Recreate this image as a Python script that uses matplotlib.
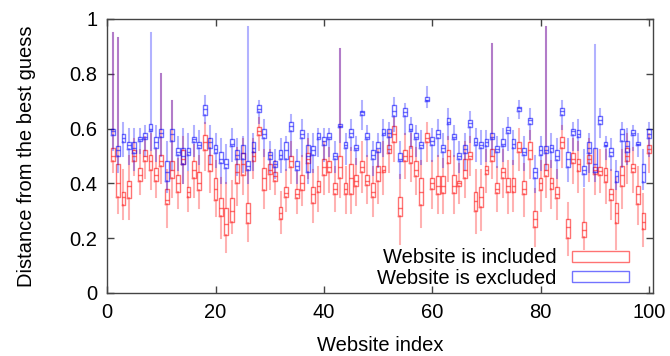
import matplotlib
matplotlib.use("Agg")
import matplotlib.pyplot as plt
from matplotlib.patches import Rectangle

plt.rcParams['font.family'] = ['Liberation Sans', 'DejaVu Sans']
plt.rcParams['font.size'] = 14.5

# website index 1..100
websites = list(range(1, 101))

# "Website is excluded" (blue): q1, median, q3, whisker low, whisker high
exc_q1 = [0.575, 0.50, 0.55, 0.525, 0.51, 0.555, 0.56, 0.59, 0.53, 0.57,
          0.41, 0.555, 0.505, 0.47, 0.505, 0.55, 0.53, 0.65, 0.53, 0.51,
          0.475, 0.455, 0.535, 0.49, 0.49, 0.45, 0.515, 0.66, 0.565, 0.49,
          0.46, 0.49, 0.49, 0.59, 0.45, 0.565, 0.44, 0.505, 0.56, 0.54,
          0.56, 0.49, 0.605, 0.53, 0.57, 0.52, 0.65, 0.56, 0.49, 0.515,
          0.575, 0.57, 0.645, 0.48, 0.645, 0.59, 0.56, 0.53, 0.70, 0.54,
          0.565, 0.515, 0.615, 0.56, 0.49, 0.51, 0.605, 0.54, 0.53, 0.535,
          0.56, 0.515, 0.535, 0.585, 0.53, 0.665, 0.505, 0.615, 0.42, 0.505,
          0.51, 0.515, 0.485, 0.65, 0.46, 0.575, 0.57, 0.435, 0.51, 0.44,
          0.615, 0.535, 0.50, 0.405, 0.555, 0.515, 0.575, 0.54, 0.405, 0.565]
exc_med = [0.59, 0.52, 0.565, 0.54, 0.53, 0.56, 0.57, 0.60, 0.55, 0.585,
           0.44, 0.58, 0.515, 0.50, 0.515, 0.56, 0.54, 0.67, 0.55, 0.525,
           0.49, 0.47, 0.545, 0.505, 0.51, 0.465, 0.53, 0.67, 0.58, 0.505,
           0.47, 0.505, 0.52, 0.61, 0.465, 0.58, 0.50, 0.52, 0.57, 0.555,
           0.57, 0.50, 0.61, 0.54, 0.585, 0.53, 0.66, 0.57, 0.505, 0.53,
           0.585, 0.585, 0.665, 0.49, 0.66, 0.60, 0.57, 0.54, 0.705, 0.555,
           0.58, 0.53, 0.625, 0.57, 0.50, 0.525, 0.62, 0.55, 0.54, 0.55,
           0.57, 0.525, 0.545, 0.595, 0.545, 0.675, 0.515, 0.63, 0.44, 0.52,
           0.52, 0.53, 0.50, 0.665, 0.49, 0.59, 0.58, 0.45, 0.53, 0.47,
           0.63, 0.54, 0.515, 0.425, 0.58, 0.535, 0.585, 0.545, 0.44, 0.58]
exc_q3 = [0.60, 0.535, 0.58, 0.55, 0.55, 0.57, 0.585, 0.615, 0.57, 0.60,
          0.48, 0.60, 0.53, 0.53, 0.53, 0.57, 0.55, 0.685, 0.565, 0.54,
          0.515, 0.49, 0.56, 0.52, 0.54, 0.48, 0.55, 0.685, 0.60, 0.515,
          0.48, 0.52, 0.55, 0.625, 0.48, 0.595, 0.54, 0.535, 0.585, 0.57,
          0.585, 0.51, 0.615, 0.55, 0.60, 0.54, 0.665, 0.585, 0.52, 0.55,
          0.60, 0.60, 0.685, 0.51, 0.675, 0.615, 0.585, 0.55, 0.715, 0.57,
          0.595, 0.54, 0.64, 0.58, 0.51, 0.54, 0.63, 0.565, 0.55, 0.56,
          0.585, 0.535, 0.56, 0.605, 0.56, 0.68, 0.53, 0.64, 0.455, 0.535,
          0.535, 0.54, 0.52, 0.675, 0.515, 0.60, 0.595, 0.465, 0.55, 0.53,
          0.645, 0.55, 0.53, 0.445, 0.60, 0.555, 0.595, 0.55, 0.47, 0.60]
exc_lo = [0.52, 0.44, 0.50, 0.47, 0.45, 0.51, 0.50, 0.52, 0.48, 0.50,
          0.37, 0.45, 0.45, 0.40, 0.45, 0.50, 0.47, 0.62, 0.47, 0.46,
          0.40, 0.40, 0.48, 0.43, 0.44, 0.40, 0.45, 0.62, 0.50, 0.44,
          0.42, 0.44, 0.45, 0.50, 0.40, 0.50, 0.40, 0.44, 0.50, 0.48,
          0.50, 0.44, 0.55, 0.47, 0.52, 0.47, 0.60, 0.50, 0.43, 0.46,
          0.50, 0.51, 0.59, 0.42, 0.58, 0.53, 0.50, 0.47, 0.68, 0.48,
          0.50, 0.46, 0.56, 0.50, 0.44, 0.45, 0.55, 0.48, 0.47, 0.48,
          0.50, 0.46, 0.48, 0.52, 0.47, 0.64, 0.45, 0.56, 0.37, 0.45,
          0.45, 0.46, 0.42, 0.60, 0.41, 0.52, 0.52, 0.39, 0.44, 0.41,
          0.57, 0.49, 0.45, 0.38, 0.46, 0.47, 0.52, 0.50, 0.38, 0.50]
exc_hi = [0.95, 0.93, 0.62, 0.60, 0.60, 0.60, 0.61, 0.95, 0.61, 0.80,
          0.55, 0.70, 0.57, 0.60, 0.58, 0.61, 0.59, 0.72, 0.61, 0.58,
          0.56, 0.54, 0.60, 0.56, 0.57, 0.97, 0.58, 0.70, 0.63, 0.55,
          0.52, 0.56, 0.57, 0.65, 0.52, 0.63, 0.58, 0.58, 0.60, 0.60,
          0.60, 0.55, 0.89, 0.58, 0.63, 0.57, 0.70, 0.61, 0.55, 0.58,
          0.63, 0.62, 0.71, 0.55, 0.69, 0.64, 0.61, 0.59, 0.75, 0.60,
          0.63, 0.58, 0.67, 0.61, 0.55, 0.58, 0.66, 0.60, 0.59, 0.59,
          0.91, 0.57, 0.60, 0.64, 0.59, 0.70, 0.57, 0.67, 0.50, 0.57,
          0.97, 0.58, 0.56, 0.70, 0.56, 0.62, 0.63, 0.52, 0.58, 0.905,
          0.67, 0.57, 0.56, 0.48, 0.62, 0.60, 0.61, 0.58, 0.52, 0.62]

# "Website is included" (red)
inc_q1 = [0.48, 0.35, 0.32, 0.345, 0.48, 0.41, 0.48, 0.45, 0.41, 0.465,
          0.325, 0.42, 0.37, 0.47, 0.35, 0.42, 0.375, 0.52, 0.445, 0.34,
          0.28, 0.21, 0.26, 0.40, 0.43, 0.255, 0.48, 0.575, 0.375, 0.435,
          0.41, 0.27, 0.35, 0.46, 0.345, 0.375, 0.475, 0.33, 0.37, 0.43,
          0.44, 0.36, 0.42, 0.36, 0.36, 0.39, 0.44, 0.395, 0.35, 0.41,
          0.44, 0.51, 0.55, 0.28, 0.48, 0.475, 0.425, 0.32, 0.55, 0.38,
          0.36, 0.365, 0.475, 0.365, 0.39, 0.42, 0.49, 0.30, 0.315, 0.435,
          0.48, 0.365, 0.42, 0.37, 0.37, 0.515, 0.36, 0.49, 0.24, 0.375,
          0.425, 0.38, 0.345, 0.53, 0.20, 0.475, 0.445, 0.205, 0.475, 0.435,
          0.43, 0.405, 0.34, 0.255, 0.39, 0.48, 0.44, 0.325, 0.235, 0.51]
inc_med = [0.50, 0.40, 0.35, 0.39, 0.50, 0.43, 0.50, 0.48, 0.43, 0.48,
           0.34, 0.45, 0.40, 0.49, 0.37, 0.45, 0.40, 0.55, 0.47, 0.38,
           0.31, 0.25, 0.30, 0.44, 0.47, 0.29, 0.50, 0.59, 0.42, 0.45,
           0.425, 0.29, 0.365, 0.48, 0.36, 0.40, 0.49, 0.36, 0.39, 0.46,
           0.46, 0.38, 0.46, 0.38, 0.42, 0.41, 0.46, 0.41, 0.37, 0.44,
           0.45, 0.525, 0.58, 0.31, 0.50, 0.50, 0.45, 0.37, 0.565, 0.40,
           0.39, 0.39, 0.50, 0.39, 0.40, 0.45, 0.50, 0.335, 0.35, 0.45,
           0.50, 0.38, 0.44, 0.39, 0.39, 0.53, 0.38, 0.52, 0.27, 0.40,
           0.45, 0.40, 0.36, 0.55, 0.24, 0.49, 0.47, 0.23, 0.49, 0.45,
           0.445, 0.43, 0.36, 0.29, 0.43, 0.50, 0.455, 0.36, 0.26, 0.525]
inc_q3 = [0.53, 0.47, 0.37, 0.41, 0.52, 0.455, 0.52, 0.505, 0.455, 0.505,
          0.38, 0.48, 0.43, 0.52, 0.385, 0.48, 0.44, 0.575, 0.505, 0.42,
          0.345, 0.31, 0.345, 0.47, 0.51, 0.33, 0.515, 0.605, 0.455, 0.47,
          0.44, 0.315, 0.385, 0.50, 0.38, 0.43, 0.51, 0.385, 0.41, 0.49,
          0.48, 0.40, 0.50, 0.40, 0.47, 0.43, 0.48, 0.43, 0.40, 0.465,
          0.465, 0.54, 0.61, 0.35, 0.52, 0.535, 0.48, 0.42, 0.585, 0.42,
          0.425, 0.425, 0.52, 0.43, 0.41, 0.49, 0.515, 0.37, 0.385, 0.465,
          0.525, 0.40, 0.455, 0.42, 0.42, 0.55, 0.41, 0.55, 0.30, 0.42,
          0.47, 0.42, 0.385, 0.57, 0.27, 0.51, 0.49, 0.26, 0.505, 0.46,
          0.46, 0.455, 0.38, 0.33, 0.465, 0.53, 0.47, 0.39, 0.29, 0.54]
inc_lo = [0.44, 0.29, 0.27, 0.27, 0.43, 0.36, 0.42, 0.38, 0.35, 0.40,
          0.24, 0.35, 0.31, 0.40, 0.30, 0.35, 0.31, 0.45, 0.37, 0.28,
          0.20, 0.15, 0.22, 0.32, 0.36, 0.19, 0.42, 0.52, 0.31, 0.38,
          0.36, 0.22, 0.30, 0.40, 0.29, 0.32, 0.42, 0.26, 0.30, 0.36,
          0.37, 0.30, 0.35, 0.29, 0.29, 0.32, 0.37, 0.33, 0.28, 0.33,
          0.36, 0.44, 0.48, 0.18, 0.42, 0.41, 0.36, 0.24, 0.48, 0.31,
          0.29, 0.29, 0.41, 0.29, 0.33, 0.35, 0.43, 0.22, 0.23, 0.37,
          0.42, 0.30, 0.35, 0.29, 0.30, 0.45, 0.28, 0.42, 0.17, 0.30,
          0.35, 0.31, 0.27, 0.46, 0.14, 0.40, 0.37, 0.16, 0.41, 0.36,
          0.37, 0.33, 0.27, 0.16, 0.31, 0.40, 0.37, 0.25, 0.17, 0.44]
inc_hi = [0.95, 0.93, 0.45, 0.50, 0.56, 0.52, 0.57, 0.58, 0.52, 0.80,
          0.45, 0.70, 0.49, 0.57, 0.44, 0.54, 0.50, 0.62, 0.56, 0.48,
          0.42, 0.40, 0.41, 0.53, 0.56, 0.45, 0.56, 0.64, 0.52, 0.52,
          0.48, 0.37, 0.45, 0.55, 0.44, 0.50, 0.56, 0.45, 0.46, 0.55,
          0.53, 0.46, 0.89, 0.46, 0.53, 0.49, 0.55, 0.50, 0.46, 0.52,
          0.55, 0.59, 0.64, 0.43, 0.58, 0.58, 0.53, 0.48, 0.62, 0.48,
          0.50, 0.49, 0.57, 0.50, 0.47, 0.55, 0.57, 0.45, 0.45, 0.52,
          0.91, 0.46, 0.52, 0.48, 0.48, 0.60, 0.47, 0.59, 0.38, 0.48,
          0.97, 0.48, 0.45, 0.61, 0.33, 0.56, 0.55, 0.38, 0.56, 0.52,
          0.52, 0.52, 0.45, 0.42, 0.52, 0.58, 0.53, 0.46, 0.36, 0.58]


def make_stats(lo, q1, med, q3, hi):
    return [dict(whislo=a, q1=b, med=c, q3=d, whishi=e)
            for a, b, c, d, e in zip(lo, q1, med, q3, hi)]


def draw_boxes(ax, stats, color):
    ax.bxp(stats, positions=websites, widths=0.7, showcaps=False,
           showfliers=False, manage_ticks=False,
           boxprops=dict(color=color, alpha=0.55, lw=1.0),
           medianprops=dict(color=color, alpha=0.55, lw=1.0),
           whiskerprops=dict(color=color, alpha=0.3, lw=1.5))


fig, ax = plt.subplots(figsize=(6.7, 3.56), dpi=100)
fig.subplots_adjust(left=0.16, right=0.975, bottom=0.177, top=0.947)

draw_boxes(ax, make_stats(inc_lo, inc_q1, inc_med, inc_q3, inc_hi), '#ff0000')
draw_boxes(ax, make_stats(exc_lo, exc_q1, exc_med, exc_q3, exc_hi), '#0000ff')

ax.set_xlim(0, 100.8)
ax.set_ylim(0, 1)
ax.set_xticks([0, 20, 40, 60, 80, 100])
ax.set_yticks([0, 0.2, 0.4, 0.6, 0.8, 1])
ax.set_yticklabels(['0', '0.2', '0.4', '0.6', '0.8', '1'])
ax.tick_params(direction='in', top=True, right=True, length=5, width=1, colors='#444444',
               labelcolor='black', labelsize=14.5, pad=7)
for s in ax.spines.values():
    s.set_color('#444444')
    s.set_linewidth(1.0)

ax.set_xlabel('Website index', fontsize=14.5, labelpad=10)
ax.set_ylabel('Distance from the best guess', fontsize=14.5, labelpad=24)

handles = [Rectangle((0, 0), 1, 1, fill=False, edgecolor='#ff0000', alpha=0.55, lw=1.0),
           Rectangle((0, 0), 1, 1, fill=False, edgecolor='#0000ff', alpha=0.55, lw=1.0)]
ax.legend(handles, ['Website is included', 'Website is excluded'], loc='lower right',
          frameon=False, markerfirst=False, handlelength=2.8, handleheight=0.5,
          handletextpad=0.8, labelspacing=0.05, borderaxespad=0, borderpad=0,
          bbox_to_anchor=(0.955, 0.02), fontsize=14.5)

fig.savefig('out.png', dpi=100)
